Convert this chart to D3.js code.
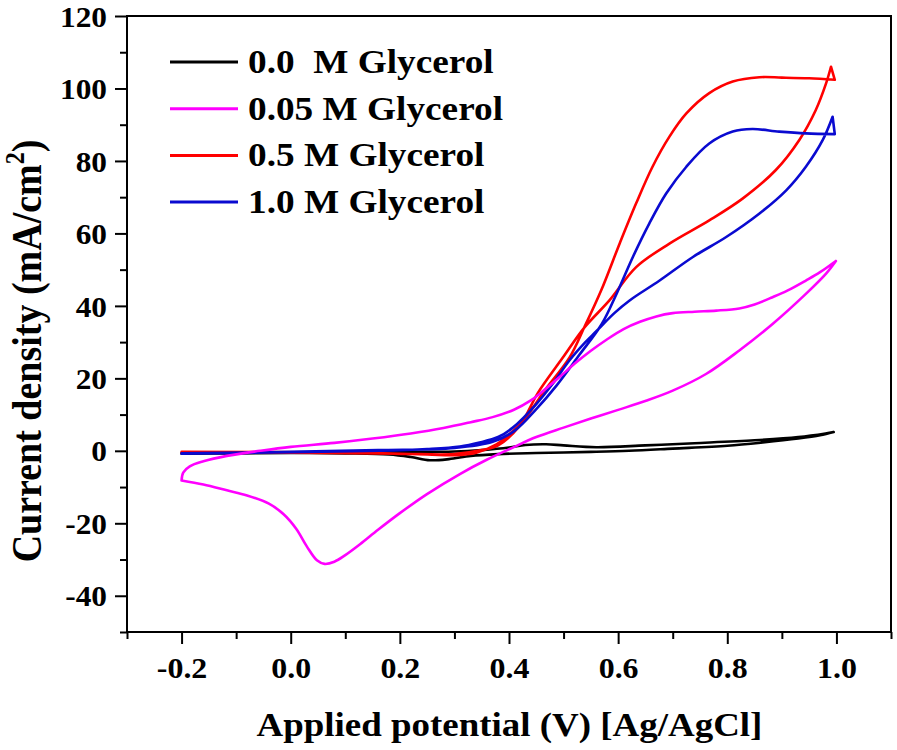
<!DOCTYPE html>
<html>
<head>
<meta charset="utf-8">
<script src="https://cdn.jsdelivr.net/npm/d3@7"></script>
<style>
  body { margin: 0; background: #fff; }
  text { font-family: "Liberation Serif", "Times New Roman", serif; font-weight: bold; }
</style>
</head>
<body>
<div id="chart"></div>
<script>
// legend / series names
const labels = ["0.0  M Glycerol", "0.05 M Glycerol", "0.5 M Glycerol", "1.0 M Glycerol"];
const colors = ["#000000", "#ff00ff", "#ff0000", "#0a0ad0"];

const xTicks = [-0.2, 0.0, 0.2, 0.4, 0.6, 0.8, 1.0];
const yTicks = [-40, -20, 0, 20, 40, 60, 80, 100, 120];

// [potential V, current density mA/cm2]; each CV is split in a forward and a reverse scan
const black0Fwd = [
  [-0.2, -0.8], [-0.1, -0.7], [0.0, -0.6], [0.1, -0.7], [0.18, -1.0], [0.22, -1.7],
  [0.255, -2.6], [0.29, -2.3], [0.33, -1.4], [0.38, -0.9], [0.45, -0.6], [0.55, -0.3],
  [0.62, 0.0], [0.7, 0.6], [0.8, 1.4], [0.865, 2.3], [0.93, 3.4], [0.97, 4.3], [0.995, 5.2]
];
const black0Rev = [
  [0.995, 5.2], [0.98, 4.8], [0.93, 3.8], [0.85, 2.9], [0.74, 2.1], [0.65, 1.5], [0.56, 1.0],
  [0.5, 1.5], [0.468, 1.8], [0.43, 1.6], [0.4, 0.9], [0.35, 0.2], [0.3, -0.2], [0.2, -0.3],
  [0.0, -0.4], [-0.2, -0.7]
];

const magenta005Fwd = [
  [-0.2, -8.2], [-0.16, -9.3], [-0.117, -10.9], [-0.08, -12.3], [-0.04, -14.6], [-0.013, -17.5],
  [0.01, -21.5], [0.03, -26.5], [0.048, -30.2], [0.062, -31.2], [0.08, -30.6], [0.1, -28.8],
  [0.127, -25.8], [0.16, -21.8], [0.2, -17.2], [0.249, -12], [0.31, -6.4], [0.36, -2.4],
  [0.407, 0.9], [0.45, 3.8], [0.5, 6.4], [0.55, 8.9], [0.6, 11.3], [0.651, 13.8], [0.7, 16.6],
  [0.761, 21.2], [0.822, 27.7], [0.883, 35], [0.944, 43.3], [0.981, 48.9], [0.999, 52.4]
];
const magenta005Rev = [
  [0.999, 52.4], [0.97, 49.3], [0.944, 47], [0.91, 44.2], [0.883, 42.4], [0.85, 40.4],
  [0.822, 39.3], [0.78, 38.7], [0.74, 38.4], [0.7, 38.0], [0.67, 37.1], [0.64, 35.6],
  [0.61, 33.6], [0.58, 30.8], [0.55, 27.6], [0.52, 24], [0.49, 20], [0.46, 16.2],
  [0.44, 13.9], [0.41, 11.4], [0.37, 9.3], [0.33, 7.9], [0.28, 6.3], [0.22, 4.8], [0.15, 3.4],
  [0.08, 2.2], [0.0, 1.1], [-0.056, 0.0], [-0.117, -1.4], [-0.16, -2.9], [-0.185, -4.3],
  [-0.197, -6.0], [-0.2, -8.2]
];

const red05Fwd = [
  [-0.2, -0.5], [0.0, -0.5], [0.2, -0.8], [0.3, -0.9], [0.35, 0.2], [0.38, 1.5], [0.42, 7],
  [0.453, 16], [0.499, 25.8], [0.538, 34], [0.584, 41.5], [0.633, 50.7], [0.694, 57.2],
  [0.767, 63.6], [0.828, 69.6], [0.889, 77.5], [0.932, 85.8], [0.962, 94], [0.981, 101.4],
  [0.99, 106]
];
const red05Rev = [
  [0.997, 102.4], [0.95, 102.8], [0.9, 103], [0.859, 103.1], [0.81, 101.9], [0.767, 98.7],
  [0.725, 93.1], [0.694, 86.7], [0.663, 78.4], [0.633, 68.3], [0.603, 57.3], [0.569, 44.3],
  [0.538, 34.1], [0.511, 25.8], [0.465, 16.6], [0.43, 9], [0.4, 4.5], [0.377, 1.8],
  [0.34, -0.5], [0.3, -1.2], [0.25, -1.0], [0.1, -0.5], [-0.2, -0.3]
];

const blue10Fwd = [
  [-0.2, -0.8], [0.0, -0.4], [0.163, 0.0], [0.25, 0.5], [0.31, 1.2], [0.346, 2.3], [0.38, 3.8],
  [0.407, 6.4], [0.45, 12.9], [0.48, 18.5], [0.511, 25], [0.54, 30], [0.56, 33], [0.593, 38],
  [0.621, 41.5], [0.676, 47], [0.737, 53.5], [0.798, 59], [0.859, 65.5], [0.908, 71.9],
  [0.944, 78.4], [0.975, 85.8], [0.993, 92.2]
];
const blue10Rev = [
  [0.997, 87.4], [0.944, 87.6], [0.895, 88.1], [0.846, 88.8], [0.81, 88.1], [0.767, 84.8],
  [0.725, 78.4], [0.688, 71], [0.657, 62.7], [0.627, 53.5], [0.597, 43.3], [0.57, 35],
  [0.529, 26.5], [0.487, 18], [0.45, 11.5], [0.41, 5.5], [0.37, 2.5], [0.3, 0.8],
  [0.16, 0.2], [0.0, -0.3], [-0.2, -0.7]
];

const series = [
  [black0Fwd, black0Rev],
  [magenta005Fwd, magenta005Rev],
  [red05Fwd, red05Rev],
  [blue10Fwd, blue10Rev]
];
const drawOrder = [0, 2, 3, 1];

const W = 897, H = 750;
const mLeft = 127, mRight = 891, mTop = 16, mBottom = 632;
const stretch = 1.13; // the figure text is a bit wide

const svg = d3.select("#chart").append("svg")
  .attr("width", W)
  .attr("height", H);

const x = d3.scaleLinear().domain([-0.3, 1.1]).range([mLeft, mRight]);
const y = d3.scaleLinear().domain([-50, 120]).range([mBottom, mTop]);

// minor ticks
const xMinor = d3.range(-3, 12, 2).map(d => d / 10);
const yMinor = d3.range(-50, 120, 20);

svg.append("g")
  .attr("transform", `translate(0,${mBottom})`)
  .call(d3.axisBottom(x).tickValues(xMinor).tickSize(7).tickFormat(""))
  .call(g => g.select(".domain").remove());

svg.append("g")
  .attr("transform", `translate(${mLeft},0)`)
  .call(d3.axisLeft(y).tickValues(yMinor).tickSize(7).tickFormat(""))
  .call(g => g.select(".domain").remove());

// major ticks + labels (plain hyphen for negatives, like the original)
const fmtX = d => d3.format(".1f")(d).replace("\u2212", "-");
const fmtY = d => d3.format("d")(d).replace("\u2212", "-");

const xAxis = svg.append("g")
  .attr("transform", `translate(0,${mBottom})`)
  .call(d3.axisBottom(x).tickValues(xTicks).tickSize(12).tickFormat(fmtX));
xAxis.select(".domain").remove();
xAxis.selectAll("text")
  .attr("y", 0).attr("dy", 0)
  .attr("transform", `translate(0,46) scale(1.1,1)`)
  .style("font-size", "29px")
  .attr("fill", "#000");

const yAxis = svg.append("g")
  .attr("transform", `translate(${mLeft},0)`)
  .call(d3.axisLeft(y).tickValues(yTicks).tickSize(12).tickFormat(fmtY));
yAxis.select(".domain").remove();
yAxis.selectAll("text")
  .attr("x", 0).attr("dy", "0.35em")
  .attr("transform", `translate(-20,0) scale(1.08,1)`)
  .style("font-size", "29px")
  .attr("fill", "#000");

svg.selectAll(".tick line").attr("stroke", "#000").attr("stroke-width", 2);

// frame
svg.append("rect")
  .attr("x", mLeft).attr("y", mTop)
  .attr("width", mRight - mLeft).attr("height", mBottom - mTop)
  .attr("fill", "none")
  .attr("stroke", "#000")
  .attr("stroke-width", 2);

// curves: smooth scans joined at the switching potential by a straight piece
const smooth = d3.line()
  .x(d => x(d[0]))
  .y(d => y(d[1]))
  .curve(d3.curveCatmullRom.alpha(0.5));

svg.append("g")
  .selectAll("path")
  .data(drawOrder)
  .join("path")
  .attr("d", i => smooth(series[i][0]) + smooth(series[i][1]).replace(/^M/, "L"))
  .attr("fill", "none")
  .attr("stroke", i => colors[i])
  .attr("stroke-width", 2.6)
  .attr("stroke-linejoin", "round")
  .attr("stroke-linecap", "round");

// legend
const legend = svg.append("g").attr("transform", "translate(170,62)");
const rows = legend.selectAll("g")
  .data(labels)
  .join("g")
  .attr("transform", (d, i) => `translate(0,${i * 46.7})`);

rows.append("line")
  .attr("x1", 0).attr("x2", 68)
  .attr("stroke", (d, i) => colors[i])
  .attr("stroke-width", 3);

rows.append("text")
  .attr("transform", `translate(78,11) scale(${stretch},1)`)
  .style("font-size", "33px")
  .style("white-space", "pre")
  .attr("xml:space", "preserve")
  .text(d => d);

// axis titles
svg.append("text")
  .attr("transform", `translate(${(mLeft + mRight) / 2 + 0.5},736) scale(1.12,1)`)
  .attr("text-anchor", "middle")
  .style("font-size", "33px")
  .text("Applied potential (V) [Ag/AgCl]");

const yt = svg.append("text")
  .attr("transform", `translate(41,351) scale(1.12,1) rotate(-90)`)
  .attr("text-anchor", "middle")
  .style("font-size", "38px");
yt.append("tspan").text("Current density (mA/cm");
yt.append("tspan").attr("dy", -15).style("font-size", "24px").text("2");
yt.append("tspan").attr("dy", 15).text(")");
</script>
</body>
</html>
